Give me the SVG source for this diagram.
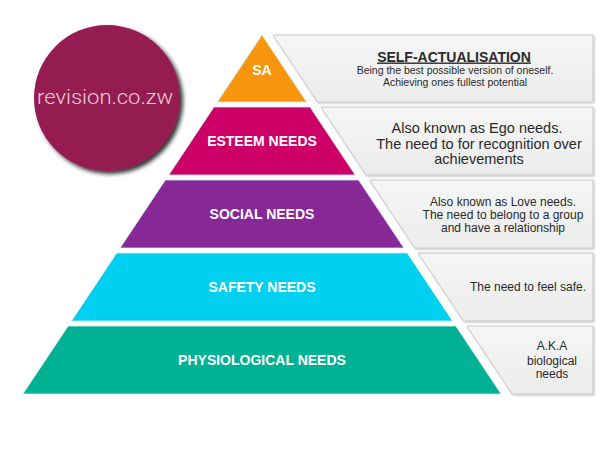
<svg xmlns="http://www.w3.org/2000/svg" width="600" height="450" viewBox="0 0 600 450">
  <defs>
    <linearGradient id="boxGrad" x1="0" y1="0" x2="0" y2="1">
      <stop offset="0" stop-color="#f6f6f6"/>
      <stop offset="1" stop-color="#ececec"/>
    </linearGradient>
    <filter id="circleShadow" x="-20%" y="-20%" width="150%" height="150%">
      <feGaussianBlur in="SourceAlpha" stdDeviation="2"/>
      <feOffset dx="3" dy="3" result="b"/>
      <feComponentTransfer><feFuncA type="linear" slope="0.8"/></feComponentTransfer>
      <feMerge><feMergeNode/><feMergeNode in="SourceGraphic"/></feMerge>
    </filter>
    <filter id="boxShadow" x="-5%" y="-10%" width="110%" height="130%">
      <feGaussianBlur in="SourceAlpha" stdDeviation="0.8"/>
      <feOffset dx="1" dy="1"/>
      <feComponentTransfer><feFuncA type="linear" slope="0.25"/></feComponentTransfer>
      <feMerge><feMergeNode/><feMergeNode in="SourceGraphic"/></feMerge>
    </filter>
  </defs>
  <style>
    .layer { stroke: #d6ebf5; stroke-width: 0.8; }
    .box { fill: url(#boxGrad); stroke: #c6c6c6; stroke-width: 1; filter: url(#boxShadow); }
    .lbl { font-family: "Liberation Sans", Arial, sans-serif; font-size: 14px; font-weight: bold; fill: #ffffff; text-anchor: middle; }
    .txt { font-family: "Liberation Sans", Arial, sans-serif; fill: #2a2a2a; text-anchor: middle; }
  </style>
  <rect width="600" height="450" fill="#ffffff"/>

  <g id="logo">
    <circle cx="107" cy="98" r="73" fill="#951b51" filter="url(#circleShadow)"/>
    <text x="105" y="104" font-family="Roboto, 'Liberation Sans', sans-serif" font-weight="300" font-size="21" fill="#eccfdc" text-anchor="middle" textLength="136" lengthAdjust="spacingAndGlyphs">revision.co.zw</text>
  </g>

  <g id="sa">
    <polygon class="layer" points="262,35 306.6,102 217.4,102" fill="#f7960c"/>
    <text class="lbl" x="262" y="75" font-weight="normal">SA</text>
  </g>
  <g id="esteem">
    <polygon class="layer" points="214,107 310,107 355.2,175 168.8,175" fill="#cc0066"/>
    <text class="lbl" x="262" y="146">ESTEEM NEEDS</text>
  </g>
  <g id="social">
    <polygon class="layer" points="165.4,180 358.6,180 403.9,248 120.1,248" fill="#872896"/>
    <text class="lbl" x="262" y="219">SOCIAL NEEDS</text>
  </g>
  <g id="safety">
    <polygon class="layer" points="116.8,253 407.2,253 452.5,321 71.5,321" fill="#00d0f0"/>
    <text class="lbl" x="262" y="292">SAFETY NEEDS</text>
  </g>
  <g id="physiological">
    <polygon class="layer" points="68.2,326 455.8,326 501.1,394 22.9,394" fill="#00b293"/>
    <text class="lbl" x="262" y="365">PHYSIOLOGICAL NEEDS</text>
  </g>

  <g id="box-sa">
    <polygon class="box" points="273,35 593,35 593,102 317.6,102"/>
    <text class="txt" x="454" y="61.5" font-size="14" font-weight="bold" text-decoration="underline">SELF-ACTUALISATION</text>
    <text class="txt" x="455" y="73.5" font-size="10.5">Being the best possible version of oneself.</text>
    <text class="txt" x="455" y="85.5" font-size="10.5">Achieving ones fullest potential</text>
  </g>
  <g id="box-esteem">
    <polygon class="box" points="321,107 593,107 593,175 366.2,175"/>
    <text class="txt" x="477" y="133" font-size="14.5">Also known as Ego needs.</text>
    <text class="txt" x="479" y="148.5" font-size="14.5">The need to for recognition over</text>
    <text class="txt" x="479" y="164" font-size="14.5">achievements</text>
  </g>
  <g id="box-social">
    <polygon class="box" points="369.6,180 593,180 593,248 414.9,248"/>
    <text class="txt" x="503" y="206" font-size="12">Also known as Love needs.</text>
    <text class="txt" x="503" y="219" font-size="12">The need to belong to a group</text>
    <text class="txt" x="503" y="232" font-size="12">and have a relationship</text>
  </g>
  <g id="box-safety">
    <polygon class="box" points="418.2,253 593,253 593,321 463.5,321"/>
    <text class="txt" x="528" y="291" font-size="12">The need to feel safe.</text>
  </g>
  <g id="box-physiological">
    <polygon class="box" points="466.8,326 593,326 593,394 512.1,394"/>
    <text class="txt" x="552" y="350" font-size="12">A.K.A</text>
    <text class="txt" x="552" y="364.5" font-size="12">biological</text>
    <text class="txt" x="552" y="378" font-size="12">needs</text>
  </g>
</svg>
